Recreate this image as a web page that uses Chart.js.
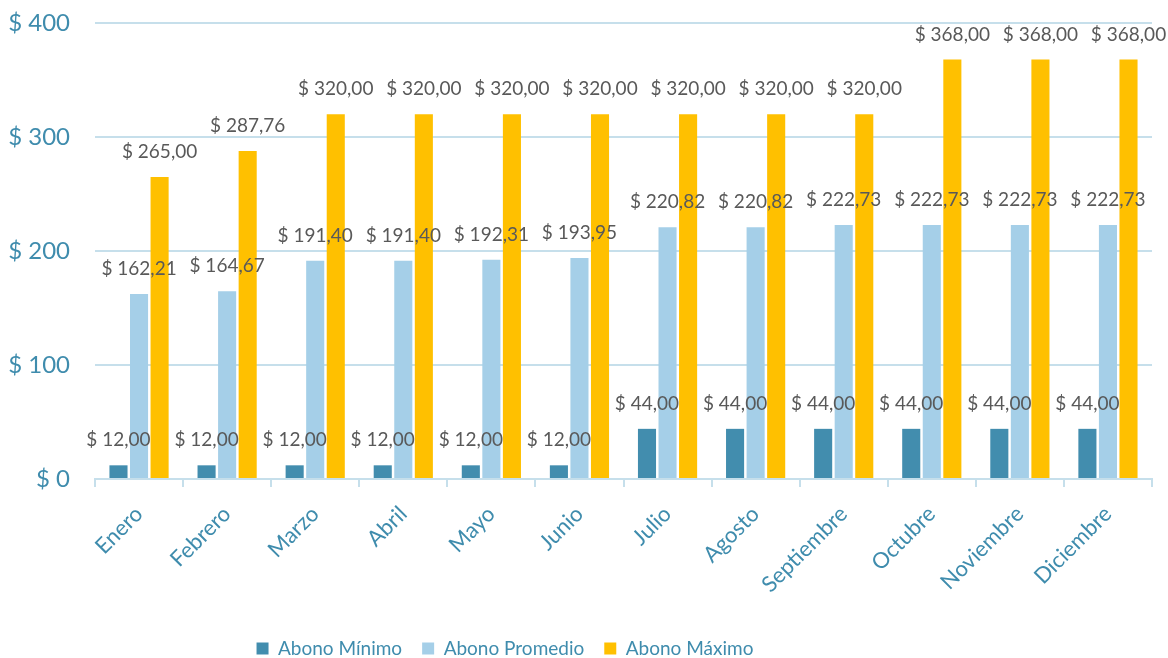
<!DOCTYPE html>
<html>
<head>
<meta charset="utf-8">
<script src="https://cdn.jsdelivr.net/npm/chart.js@4"></script>
<style>
  html, body { margin: 0; padding: 0; background: #fff; }
  #wrap { width: 1168px; height: 658px; position: relative; }
</style>
</head>
<body>
<div id="wrap"><canvas id="abonos" width="1168" height="658"></canvas></div>
<script>
const meses = ['Enero', 'Febrero', 'Marzo', 'Abril', 'Mayo', 'Junio', 'Julio', 'Agosto', 'Septiembre', 'Octubre', 'Noviembre', 'Diciembre'];
const abonoMinimo = [12, 12, 12, 12, 12, 12, 44, 44, 44, 44, 44, 44];
const abonoPromedio = [162.21, 164.67, 191.40, 191.40, 192.31, 193.95, 220.82, 220.82, 222.73, 222.73, 222.73, 222.73];
const abonoMaximo = [265.00, 287.76, 320, 320, 320, 320, 320, 320, 320, 368, 368, 368];

const teal = '#3f8cad';
const gridColor = '#c6dfeb';
const fontName = 'Lato';

function pesos(v) {
  return '$ ' + v.toFixed(2).replace('.', ',');
}

// labels above each bar
const barLabels = {
  id: 'barLabels',
  afterLayout(chart) {
    // legend sits lower and a bit left of centre in the original
    const lg = chart.legend;
    lg.right -= 142;
    lg.top += 10;
    lg.bottom += 10;
  },
  afterDatasetsDraw(chart) {
    const ctx = chart.ctx;
    ctx.save();
    ctx.font = '19px ' + fontName;
    ctx.fillStyle = '#595959';
    ctx.textAlign = 'center';
    ctx.textBaseline = 'middle';
    chart.data.datasets.forEach((ds, i) => {
      chart.getDatasetMeta(i).data.forEach((bar, j) => {
        ctx.fillText(pesos(ds.data[j]), bar.x, bar.y - 25);
      });
    });
    ctx.restore();
  }
};

new Chart(document.getElementById('abonos').getContext('2d'), {
  type: 'bar',
  data: {
    labels: meses,
    datasets: [
      { label: 'Abono Mínimo', data: abonoMinimo, backgroundColor: '#428dae' },
      { label: 'Abono Promedio', data: abonoPromedio, backgroundColor: '#a5cfe8' },
      { label: 'Abono Máximo', data: abonoMaximo, backgroundColor: '#ffc000' }
    ]
  },
  options: {
    responsive: false,
    animation: false,
    devicePixelRatio: 1,
    layout: { padding: { top: 23, right: 16, bottom: 0, left: 0 } },
    datasets: {
      bar: { categoryPercentage: 0.7, barPercentage: 0.88 }
    },
    plugins: {
      legend: {
        position: 'bottom',
        labels: {
          font: { family: fontName, size: 19 },
          color: teal,
          boxWidth: 12,
          boxHeight: 12,
          padding: 20
        }
      },
      tooltip: { enabled: false }
    },
    scales: {
      x: {
        grid: { drawOnChartArea: false, color: gridColor, lineWidth: 2, tickLength: 8, offset: true },
        border: { color: gridColor, width: 2 },
        ticks: {
          font: { family: fontName, size: 22 },
          color: teal,
          autoSkip: false,
          maxRotation: 45,
          minRotation: 45,
          padding: 14
        },
        afterFit(axis) { axis.height = 130; }
      },
      y: {
        min: 0,
        max: 400,
        grid: { color: gridColor, lineWidth: 2, tickLength: 25, tickColor: 'rgba(0,0,0,0)' },
        border: { display: false },
        ticks: {
          stepSize: 100,
          font: { family: fontName, size: 24 },
          color: teal,
          padding: 0,
          callback: v => '$ ' + v
        },
        afterFit(axis) { axis.width = 95; }
      }
    }
  },
  plugins: [barLabels]
});
</script>
</body>
</html>
